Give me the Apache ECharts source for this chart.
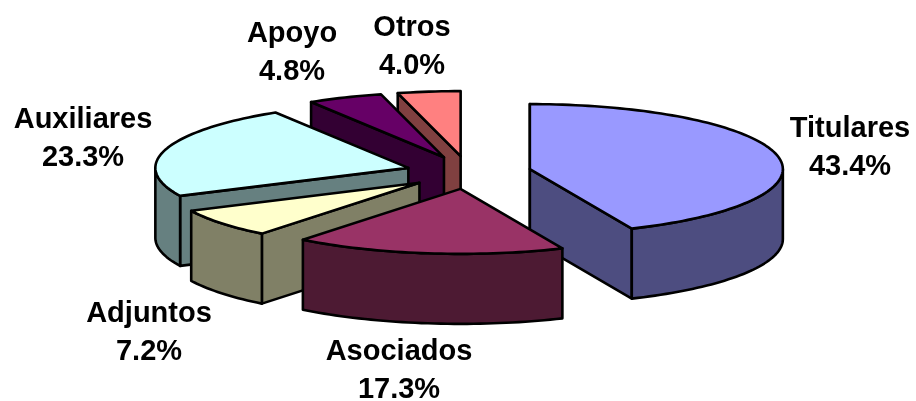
<!DOCTYPE html>
<html>
<head>
<meta charset="utf-8">
<style>
html, body { margin: 0; padding: 0; background: #fff; }
#chart { width: 916px; height: 401px; }
</style>
<script src="https://cdn.jsdelivr.net/npm/echarts@6/dist/echarts.min.js"></script>
</head>
<body>
<div id="chart"></div>
<script>
const categories = ['Titulares', 'Asociados', 'Adjuntos', 'Auxiliares', 'Apoyo', 'Otros'];
const values = [43.4, 17.3, 7.2, 23.3, 4.8, 4.0];

const topColors = ['#9999FF', '#993366', '#FFFFCC', '#CCFFFF', '#660066', '#FF8080'];
const sideColors = ['#4D4D80', '#4D1A33', '#808066', '#668080', '#330033', '#804040'];
// back to front, the pie is painted by hand so the order matters
const paintRank = [3, 5, 4, 2, 1, 0];
const labelX = [850, 399, 149, 83, 292, 412];
const labelY = [148, 371, 333, 139, 53, 47];

// pie layout in pixels
const cx = 468.5, cy = 172.5;
const rx = 253, ry = 65;
const explodeX = 62.7, explodeY = 16.5;
const depth = 70;

const total = values.reduce((a, b) => a + b, 0);

function arcPoints(ox, oy, from, to) {
    const pts = [];
    const steps = Math.max(2, Math.ceil((to - from) / 1.5));
    for (let i = 0; i <= steps; i++) {
        const a = (from + (to - from) * i / steps) * Math.PI / 180;
        pts.push([ox + rx * Math.sin(a), oy - ry * Math.cos(a)]);
    }
    return pts;
}

function renderSlice(params, api) {
    const i = params.dataIndex;
    let before = 0;
    for (let k = 0; k < i; k++) before += values[k];
    const start = before / total * 360;
    const end = (before + api.value(0)) / total * 360;
    const mid = (start + end) / 2 * Math.PI / 180;

    const ox = cx + explodeX * Math.sin(mid);
    const oy = cy - explodeY * Math.cos(mid);

    const lineStyle = { stroke: '#000', lineWidth: 2.6, lineJoin: 'round' };
    const children = [];
    const z = paintRank[i] * 10;
    const add = (points, fill, z2) => children.push({
        type: 'polygon',
        z2: z + z2,
        shape: { points: points },
        style: Object.assign({ fill: fill }, lineStyle)
    });

    const wall = (deg) => {
        const e = arcPoints(ox, oy, deg, deg)[0];
        add([[ox, oy], e, [e[0], e[1] + depth], [ox, oy + depth]], sideColors[i], 1);
    };
    // only the radial walls that face the viewer
    if (Math.sin(start * Math.PI / 180) <= 0) wall(start);
    if (Math.sin(end * Math.PI / 180) > 0) wall(end);

    // outer wall, front half of the ellipse only
    const from = Math.max(start, 90), to = Math.min(end, 270);
    if (to > from) {
        const upper = arcPoints(ox, oy, from, to);
        const lower = upper.map(p => [p[0], p[1] + depth]).reverse();
        add(upper.concat(lower), sideColors[i], 2);
    }

    add([[ox, oy]].concat(arcPoints(ox, oy, start, end)), topColors[i], 3);

    children.push({
        type: 'text',
        z2: 100,
        style: {
            x: labelX[i],
            y: labelY[i],
            text: categories[i] + '\n' + values[i].toFixed(1) + '%',
            fontFamily: '"Liberation Sans", Arial, sans-serif',
            fontWeight: 'bold',
            fontSize: 29,
            lineHeight: 38,
            align: 'center',
            verticalAlign: 'middle',
            fill: '#000'
        }
    });

    return { type: 'group', children: children };
}

const chart = echarts.init(document.getElementById('chart'));
chart.setOption({
    animation: false,
    backgroundColor: '#fff',
    series: [{
        type: 'custom',
        coordinateSystem: 'none',
        silent: true,
        renderItem: renderSlice,
        data: values.map((v, i) => ({ name: categories[i], value: [v] }))
    }]
});
</script>
</body>
</html>
